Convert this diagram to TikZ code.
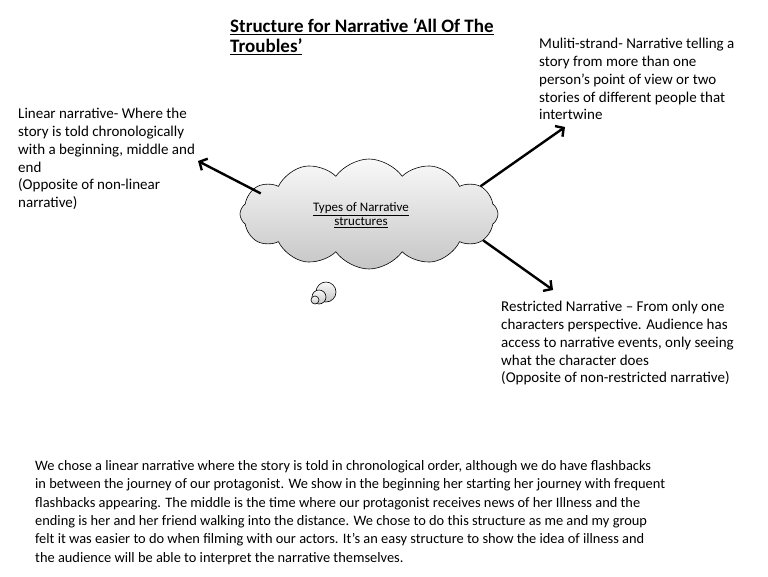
\documentclass[tikz,border=0pt]{standalone}
\usepackage{fontspec}
\setmainfont{Carlito}
\usetikzlibrary{shapes.symbols,arrows.meta}
\begin{document}
\begin{tikzpicture}[x=1pt,y=-1pt,line width=2.4pt,
    font=\fontsize{15}{17.8}\selectfont,
    note/.style={anchor=north west,align=left,inner sep=0pt},
    pointer/.style={-{Straight Barb[length=6pt,width=13pt]},line width=2.4pt},
    puff/.style={draw,line width=.6pt,top color=gray!5,bottom color=gray!45}]
  \useasboundingbox (0,0) rectangle (768,576);
  \node[note,font=\fontsize{19}{20}\selectfont\bfseries] (title) at (229,17)
    {\underline{Structure for Narrative ‘All Of The}\\\underline{Troubles’}};
  \node[cloud,cloud puffs=12,cloud puff arc=110,aspect=2.3,puff,
    minimum width=258,minimum height=110,inner sep=0pt] (cloud) at (369,214) {};
  \node[align=center,inner sep=0pt,font=\fontsize{13}{14}\selectfont] (kind) at (361,215)
    {\underline{Types of Narrative}\\\underline{structures}};
  \node[puff,circle,minimum size=20,inner sep=0pt] (b1) at (326,292) {};
  \node[puff,circle,minimum size=14,inner sep=0pt] (b2) at (319,297) {};
  \node[puff,circle,minimum size=8,inner sep=0pt] (b3) at (315,300) {};
  \node[note] (linear) at (17,107)
    {Linear narrative- Where the\\story is told chronologically\\with a beginning, middle and\\end\\(Opposite of non-linear\\narrative)};
  \node[note] (multi) at (538,37)
    {Muliti-strand- Narrative telling a\\story from more than one\\person’s point of view or two\\stories of different people that\\intertwine};
  \node[note] (restrict) at (500,300)
    {Restricted Narrative – From only one\\characters perspective. Audience has\\access to narrative events, only seeing\\what the character does\\(Opposite of non-restricted narrative)};
  \node[note,font=\fontsize{14.4}{18.4}\selectfont] (usage) at (34,459)
    {We chose a linear narrative where the story is told in chronological order, although we do have flashbacks\\in between the journey of our protagonist. We show in the beginning her starting her journey with frequent\\flashbacks appearing. The middle is the time where our protagonist receives news of her Illness and the\\ending is her and her friend walking into the distance. We chose to do this structure as me and my group\\felt it was easier to do when filming with our actors. It’s an easy structure to show the idea of illness and\\the audience will be able to interpret the narrative themselves.};
  \coordinate (linTip) at (198,161);
  \coordinate (mulTip) at (565,127);
  \coordinate (resTip) at (553,290);
  \draw[pointer,shorten <=-9pt] (cloud.168) -- (linTip);
  \draw[pointer] (cloud.14) -- (mulTip);
  \draw[pointer] (cloud.-13) -- (resTip);
\end{tikzpicture}
\end{document}
